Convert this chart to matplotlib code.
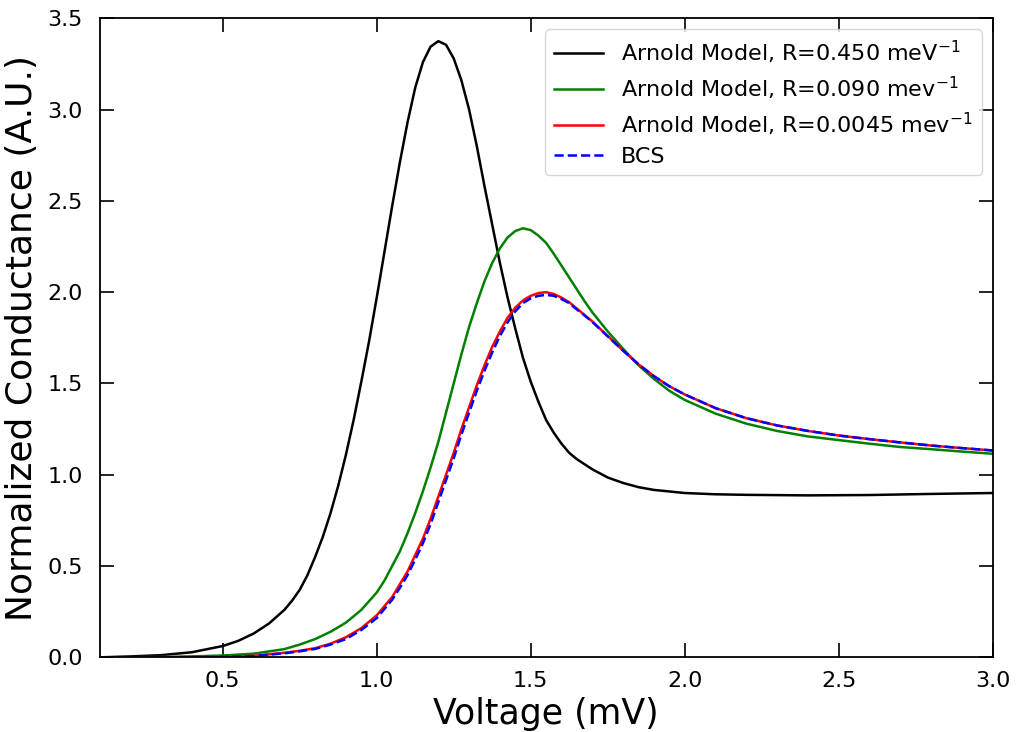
import numpy as np
import matplotlib.pyplot as plt

# Values (voltage in mV, normalized conductance)
v_black = [0.1, 0.2, 0.3, 0.4, 0.5, 0.55, 0.6, 0.65, 0.7, 0.725, 0.75, 0.775,
           0.8, 0.825, 0.85, 0.875, 0.9, 0.925, 0.95, 0.975, 1.0, 1.025, 1.05,
           1.075, 1.1, 1.125, 1.15, 1.175, 1.2, 1.225, 1.25, 1.275, 1.3, 1.325,
           1.35, 1.375, 1.4, 1.425, 1.45, 1.475, 1.5, 1.525, 1.55, 1.575, 1.6,
           1.625, 1.65, 1.7, 1.75, 1.8, 1.85, 1.9, 2.0, 2.1, 2.2, 2.4, 2.6, 2.8,
           3.0]
g_black = [0.0, 0.005, 0.012, 0.028, 0.062, 0.09, 0.13, 0.185, 0.26, 0.31,
           0.37, 0.45, 0.55, 0.66, 0.79, 0.94, 1.11, 1.30, 1.51, 1.73, 1.97,
           2.22, 2.47, 2.71, 2.93, 3.12, 3.26, 3.345, 3.375, 3.355, 3.28, 3.16,
           3.0, 2.80, 2.58, 2.37, 2.16, 1.97, 1.80, 1.64, 1.51, 1.40, 1.30,
           1.23, 1.17, 1.12, 1.085, 1.03, 0.985, 0.955, 0.932, 0.917, 0.90,
           0.893, 0.89, 0.887, 0.889, 0.895, 0.90]

v_green = [0.1, 0.3, 0.4, 0.5, 0.6, 0.7, 0.75, 0.8, 0.85, 0.9, 0.95, 1.0, 1.025,
           1.05, 1.075, 1.1, 1.125, 1.15, 1.175, 1.2, 1.225, 1.25, 1.275, 1.3,
           1.325, 1.35, 1.375, 1.4, 1.425, 1.45, 1.475, 1.5, 1.525, 1.55, 1.575,
           1.6, 1.625, 1.65, 1.675, 1.7, 1.75, 1.8, 1.85, 1.9, 1.95, 2.0, 2.1,
           2.2, 2.3, 2.4, 2.5, 2.6, 2.7, 2.8, 2.9, 3.0]
g_green = [0.0, 0.002, 0.005, 0.01, 0.02, 0.045, 0.07, 0.1, 0.14, 0.19, 0.26,
           0.355, 0.42, 0.50, 0.58, 0.68, 0.79, 0.91, 1.04, 1.18, 1.34, 1.50,
           1.66, 1.81, 1.94, 2.06, 2.16, 2.24, 2.30, 2.335, 2.35, 2.34, 2.31,
           2.27, 2.21, 2.145, 2.08, 2.015, 1.95, 1.89, 1.785, 1.69, 1.60, 1.525,
           1.46, 1.41, 1.335, 1.28, 1.24, 1.21, 1.19, 1.17, 1.152, 1.14, 1.127,
           1.115]

v_red = [0.1, 0.3, 0.5, 0.6, 0.7, 0.75, 0.8, 0.85, 0.9, 0.95, 1.0, 1.025, 1.05,
         1.075, 1.1, 1.125, 1.15, 1.175, 1.2, 1.225, 1.25, 1.275, 1.3, 1.325,
         1.35, 1.375, 1.4, 1.425, 1.45, 1.475, 1.5, 1.525, 1.55, 1.575, 1.6,
         1.625, 1.65, 1.675, 1.7, 1.75, 1.8, 1.85, 1.9, 1.95, 2.0, 2.1, 2.2,
         2.3, 2.4, 2.5, 2.6, 2.7, 2.8, 2.9, 3.0]
g_red = [0.0, 0.0, 0.003, 0.008, 0.025, 0.036, 0.05, 0.075, 0.11, 0.16, 0.23,
         0.28, 0.33, 0.40, 0.47, 0.56, 0.65, 0.76, 0.88, 1.0, 1.12, 1.25, 1.37,
         1.49, 1.60, 1.70, 1.785, 1.86, 1.915, 1.955, 1.98, 1.995, 2.0, 1.99,
         1.97, 1.945, 1.91, 1.875, 1.84, 1.76, 1.68, 1.605, 1.54, 1.485, 1.44,
         1.365, 1.31, 1.27, 1.24, 1.215, 1.195, 1.177, 1.16, 1.146, 1.133]

v_bcs = v_red
g_bcs = [0.0, 0.0, 0.002, 0.007, 0.022, 0.033, 0.046, 0.07, 0.10, 0.15, 0.215,
         0.265, 0.315, 0.38, 0.45, 0.535, 0.625, 0.73, 0.85, 0.97, 1.09, 1.22,
         1.34, 1.46, 1.57, 1.67, 1.76, 1.835, 1.895, 1.94, 1.966, 1.98, 1.985,
         1.98, 1.962, 1.94, 1.905, 1.872, 1.837, 1.758, 1.68, 1.605, 1.54,
         1.485, 1.44, 1.365, 1.31, 1.27, 1.24, 1.215, 1.195, 1.177, 1.16,
         1.146, 1.133]

labels = ["Arnold Model, R=0.450 meV$^{-1}$",
          "Arnold Model, R=0.090 mev$^{-1}$",
          "Arnold Model, R=0.0045 mev$^{-1}$",
          "BCS"]

fig = plt.figure(figsize=(10.16, 7.32), dpi=100)
ax = fig.add_axes([0.098, 0.102, 0.879, 0.873])

ax.plot(v_black, g_black, color="black", lw=1.8, label=labels[0])
ax.plot(v_green, g_green, color="green", lw=1.8, label=labels[1])
ax.plot(v_red, g_red, color="red", lw=1.8, label=labels[2])
ax.plot(v_bcs, g_bcs, color="blue", lw=1.8, ls="--", label=labels[3])

ax.set_xlim(0.1, 3.0)
ax.set_ylim(0, 3.5)
ax.set_xticks([0.5, 1.0, 1.5, 2.0, 2.5, 3.0])
ax.set_yticks(np.arange(0, 3.51, 0.5))
ax.tick_params(direction="in", length=10, width=1.2, labelsize=16,
               top=True, right=True)
ax.tick_params(axis="x", pad=10)
ax.tick_params(axis="y", pad=12)
for s in ax.spines.values():
    s.set_linewidth(1.3)

ax.set_xlabel("Voltage (mV)", fontsize=25)
ax.set_ylabel("Normalized Conductance (A.U.)", fontsize=26, labelpad=6)
ax.legend(loc="upper right", fontsize=16, labelspacing=0.4,
          handlelength=2.2)

fig.savefig("out.png", dpi=100)
